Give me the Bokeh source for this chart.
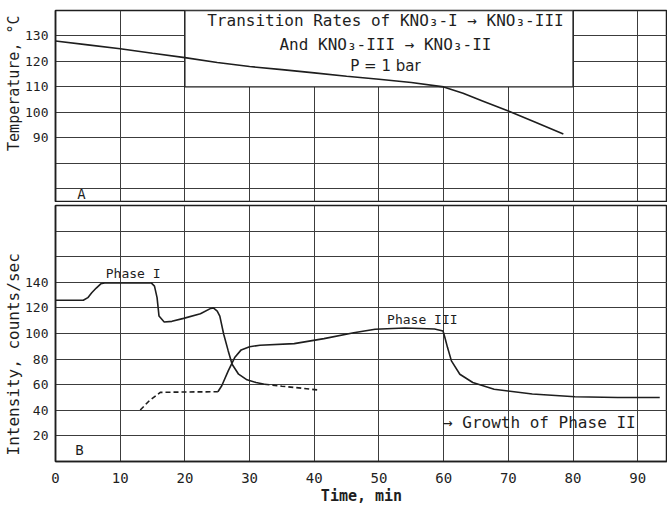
from bokeh.plotting import figure
from bokeh.layouts import column
from bokeh.models import FixedTicker, Range1d, Title
from bokeh.embed import file_html
from bokeh.resources import INLINE
from bokeh.core.properties import value

# ---------------- data ----------------
# Panel A: temperature vs time
temp_time = [0, 5, 10, 15, 20, 25, 30, 35, 40, 45, 50, 55, 60, 63, 66, 70, 74, 78.5]
temp_c = [128, 126.5, 125, 123.2, 121.5, 119.6, 118, 116.8, 115.5, 114.2, 113, 111.7, 110,
          107.5, 104.5, 100.5, 96.3, 91.5]

# Panel B: Phase I intensity (solid part, then dashed tail)
ph1_time = [0, 4.3, 5.0, 5.6, 6.3, 7.0, 7.6, 10, 14.8, 15.3, 15.7, 16.0, 16.8, 18.0, 19.8,
            22.4, 24.0, 24.4, 25.0, 25.4, 26.0, 26.7, 27.3, 28.3, 29.6, 31.0, 32.3]
ph1_int = [126, 126, 128, 131.8, 135.5, 138.8, 139.5, 139.5, 139.5, 137, 128, 113.6, 109,
           109.5, 111.8, 115.4, 119.6, 120, 117.5, 113.6, 99.4, 86.4, 76, 68.2, 63.8, 61.7, 60.4]
ph1_tail_time = [32.3, 35, 38, 40.7]
ph1_tail_int = [60.4, 58.8, 57.3, 55.8]

# Panel B: Phase III intensity (dashed start, then solid)
ph3_start_time = [13.1, 14.5, 16.2, 20, 25.1]
ph3_start_int = [40.2, 47.5, 54, 54.3, 54.5]
ph3_time = [25.1, 25.7, 26.7, 27.7, 28.7, 30.0, 31.6, 36.9, 41.5, 46.1, 49.4, 54.0, 58.6,
            59.9, 60.2, 60.6, 61.2, 62.5, 64.5, 67.8, 73.7, 80.3, 86.9, 93.4]
ph3_int = [54.5, 59.2, 70.8, 81.2, 87.2, 89.7, 90.8, 92.1, 96.0, 100.6, 103.3, 104.3, 103.5,
           102, 96.7, 89, 78.6, 68.2, 61.7, 56.5, 52.7, 50.6, 50, 50]

# ticks
x_ticks = [0, 10, 20, 30, 40, 50, 60, 70, 80, 90]
temp_ticks = [90, 100, 110, 120, 130]
temp_grid = [70, 80, 90, 100, 110, 120, 130]
int_ticks = [20, 40, 60, 80, 100, 120, 140]
int_grid = [20, 40, 60, 80, 100, 120, 140, 160, 180]

title_lines = ["Transition Rates of KNO₃-I → KNO₃-III",
               "And KNO₃-III → KNO₃-II",
               "P = 1 bar"]

# ---------------- style ----------------
FONT = "DejaVu Sans"
MONO = "DejaVu Sans Mono"
INK = "#1e1e1e"
GRID = "#3c3c3c"
X_END = 94.6


def style(p, yticks, ygrid):
    p.xgrid.ticker = FixedTicker(ticks=x_ticks)
    p.ygrid.ticker = FixedTicker(ticks=ygrid)
    for g in (p.xgrid, p.ygrid):
        g.grid_line_color = GRID
        g.grid_line_width = 1
    p.yaxis.ticker = FixedTicker(ticks=yticks)
    p.outline_line_color = INK
    p.outline_line_width = 1.5
    p.background_fill_color = "white"
    p.border_fill_color = "white"
    for ax in p.axis:
        ax.axis_line_color = INK
        ax.axis_line_width = 1.5
        ax.major_tick_line_color = None
        ax.minor_tick_line_color = None
        ax.major_label_text_font = MONO
        ax.major_label_text_font_size = "14px"
        ax.major_label_text_color = INK
        ax.axis_label_text_font = MONO
        ax.axis_label_text_font_size = "15px"
        ax.axis_label_text_font_style = "normal"
        ax.axis_label_text_color = INK
    p.yaxis.major_label_text_font_size = "13px"
    p.yaxis.major_label_standoff = 1


def side_label(p, text, size, align, offset):
    p.add_layout(Title(text=text, align=align, offset=offset, standoff=0,
                       text_font=MONO, text_font_size=size, text_font_style="normal",
                       text_color=INK), "left")


# ---------------- panel A ----------------
pa = figure(frame_width=612, frame_height=191, x_range=Range1d(0, X_END),
            y_range=Range1d(65, 140), x_axis_location=None,
            output_backend="svg", toolbar_location=None,
            min_border_left=55, min_border_right=0, min_border_top=10, min_border_bottom=1)
style(pa, temp_ticks, temp_grid)
side_label(pa, "Temperature, °C", "15px", "right", 5)

# title box (covers the grid behind the title)
pa.quad(left=[20], right=[80], bottom=[110], top=[140], fill_color="white",
        line_color=INK, line_width=1.3)
pa.text(x=[51, 51], y=[136.2, 126.8], text=title_lines[:2],
        text_font=value(MONO), text_font_size="16px", text_align="center",
        text_baseline="middle", text_color=INK)
pa.text(x=[51], y=[118.2], text=title_lines[2:],
        text_font=value(FONT), text_font_size="15px", text_align="center",
        text_baseline="middle", text_color=INK)
pa.line(temp_time, temp_c, line_color=INK, line_width=1.6)
pa.text(x=[4], y=[67.8], text=["A"], text_font=value(MONO), text_font_size="14px",
        text_align="center", text_baseline="middle", text_color=INK)

# ---------------- panel B ----------------
pb = figure(frame_width=612, frame_height=256, x_range=pa.x_range,
            y_range=Range1d(0, 200),
            output_backend="svg", toolbar_location=None,
            min_border_left=55, min_border_right=0, min_border_top=3, min_border_bottom=37)
style(pb, int_ticks, int_grid)
side_label(pb, "Intensity, counts/sec", "16px", "left", 6)
pb.xaxis.ticker = FixedTicker(ticks=x_ticks)
pb.xaxis.axis_label = "Time, min"
pb.xaxis.axis_label_text_font_style = "bold"
pb.xaxis.axis_label_text_font_size = "15px"
pb.xaxis.major_label_standoff = 5
pb.xaxis.axis_label_standoff = 1

pb.line(ph1_time, ph1_int, line_color=INK, line_width=1.6)
pb.line(ph1_tail_time, ph1_tail_int, line_color=INK, line_width=1.6, line_dash="5 3")
pb.line(ph3_start_time, ph3_start_int, line_color=INK, line_width=1.6, line_dash="5 3")
pb.line(ph3_time, ph3_int, line_color=INK, line_width=1.6)

pb.text(x=[12, 56.7], y=[147, 110.7], text=["Phase I", "Phase III"],
        text_font=value(MONO), text_font_size="13px", text_align="center",
        text_baseline="middle", text_color=INK)
pb.text(x=[59.9], y=[30.7], text=["→ Growth of Phase II"],
        text_font=value(MONO), text_font_size="16px", text_align="left",
        text_baseline="middle", text_color=INK)
pb.text(x=[3.7], y=[8.6], text=["B"], text_font=value(MONO), text_font_size="14px",
        text_align="center", text_baseline="middle", text_color=INK)

layout = column(pa, pb, spacing=0)
open("out.html", "w").write(file_html(layout, INLINE))
